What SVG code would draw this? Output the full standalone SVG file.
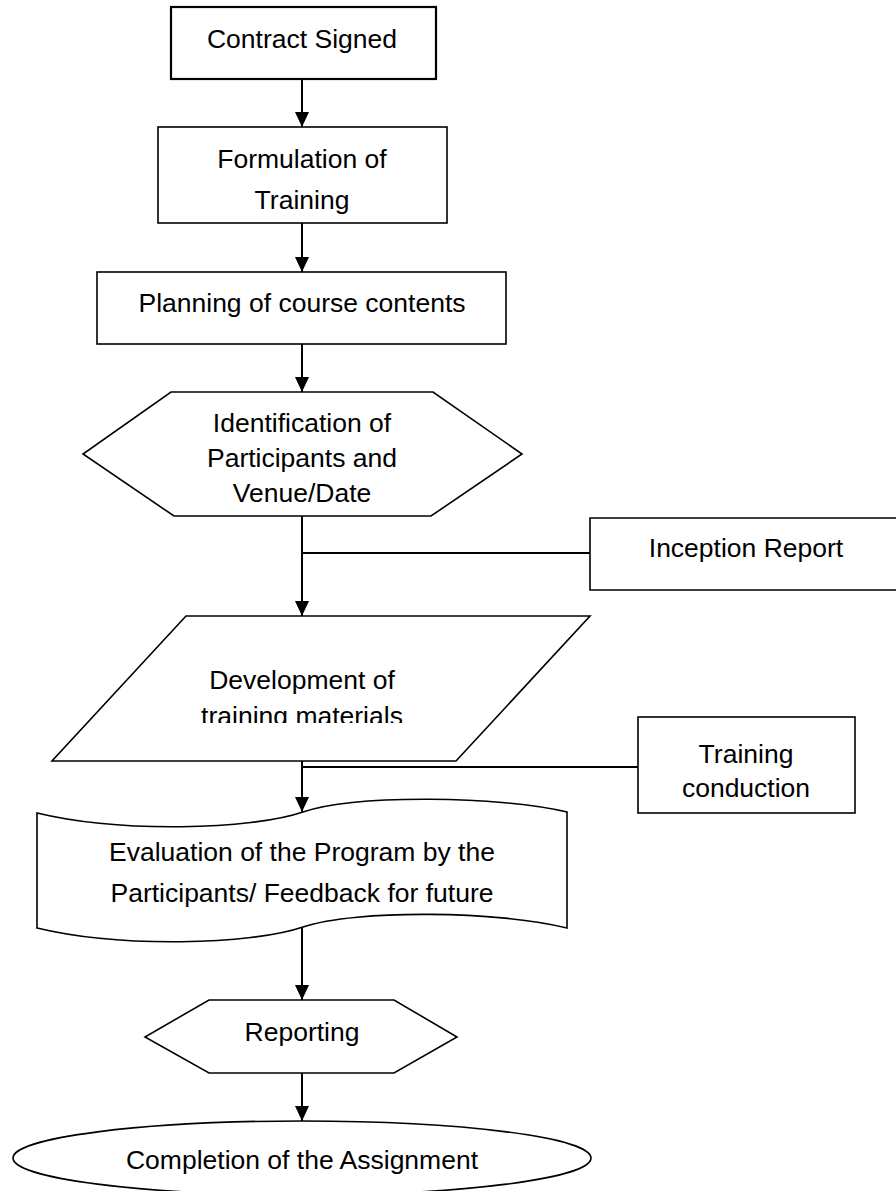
<svg xmlns="http://www.w3.org/2000/svg" width="896" height="1191" viewBox="0 0 896 1191">
<defs>
<style>
.shape{fill:#fff;stroke:#000;stroke-width:1.6;stroke-linejoin:miter}
.thick{stroke-width:2.2}
.lbl{font-family:"Liberation Sans",Arial,sans-serif;font-size:26.5px;fill:#000;text-anchor:middle}
.conn{fill:none;stroke:#000;stroke-width:2}
</style>
<marker id="arr" viewBox="0 0 15 14" refX="15" refY="7" markerWidth="15" markerHeight="14" markerUnits="userSpaceOnUse" orient="auto"><path d="M0,0 L15,7 L0,14 Z" fill="#000"/></marker>
<clipPath id="clipDev"><rect x="0" y="600" width="896" height="123"/></clipPath>
</defs>
<rect width="896" height="1191" fill="#fff"/>

<g id="connectors">
<line class="conn" x1="302" y1="79" x2="302" y2="127" marker-end="url(#arr)"/>
<line class="conn" x1="302" y1="223" x2="302" y2="272" marker-end="url(#arr)"/>
<line class="conn" x1="302" y1="344" x2="302" y2="392" marker-end="url(#arr)"/>
<line class="conn" x1="302" y1="516" x2="302" y2="616" marker-end="url(#arr)"/>
<line class="conn" x1="302" y1="553" x2="590" y2="553"/>
<line class="conn" x1="302" y1="761" x2="302" y2="812" marker-end="url(#arr)"/>
<line class="conn" x1="302" y1="767" x2="638" y2="767"/>
<line class="conn" x1="302" y1="927" x2="302" y2="1000" marker-end="url(#arr)"/>
<line class="conn" x1="302" y1="1073" x2="302" y2="1121" marker-end="url(#arr)"/>
</g>

<g id="contract-signed">
<rect class="shape thick" x="171" y="7" width="265" height="72"/>
<text class="lbl" x="302" y="48">Contract Signed</text>
</g>

<g id="formulation">
<rect class="shape" x="158" y="127" width="289" height="96"/>
<text class="lbl" x="302" y="168">Formulation of</text>
<text class="lbl" x="302" y="209">Training</text>
</g>

<g id="planning">
<rect class="shape" x="97" y="272" width="409" height="72"/>
<text class="lbl" x="302" y="312">Planning of course contents</text>
</g>

<g id="identification">
<polygon class="shape" points="171,392 433,392 522,454 431,516 174,516 83,454"/>
<text class="lbl" x="302" y="432">Identification of</text>
<text class="lbl" x="302" y="467">Participants and</text>
<text class="lbl" x="302" y="502">Venue/Date</text>
</g>

<g id="inception-report">
<path class="shape" d="M896,518 H590 V590 H896"/>
<text class="lbl" x="746" y="557">Inception Report</text>
</g>

<g id="development">
<polygon class="shape" points="186,616 590,616 456,761 52,761"/>
<g clip-path="url(#clipDev)">
<text class="lbl" x="302" y="689">Development of</text>
<text class="lbl" x="302" y="725">training materials</text>
</g>
</g>

<g id="training-conduction">
<rect class="shape" x="638" y="717" width="217" height="96"/>
<text class="lbl" x="746" y="763">Training</text>
<text class="lbl" x="746" y="797">conduction</text>
</g>

<g id="evaluation">
<path class="shape" d="M37,813 C120,833 250,830 303,812 C356,794 500,796 567,812 L567,928 C500,911 356,909 303,927 C250,945 120,948 37,928 Z"/>
<text class="lbl" x="302" y="861">Evaluation of the Program by the</text>
<text class="lbl" x="302" y="902">Participants/ Feedback for future</text>
</g>

<g id="reporting">
<polygon class="shape" points="209,1000 394,1000 457,1037 394,1073 209,1073 145,1037"/>
<text class="lbl" x="302" y="1041">Reporting</text>
</g>

<g id="completion">
<ellipse class="shape" cx="302" cy="1158" rx="289" ry="37"/>
<text class="lbl" x="302" y="1169">Completion of the Assignment</text>
</g>
</svg>
